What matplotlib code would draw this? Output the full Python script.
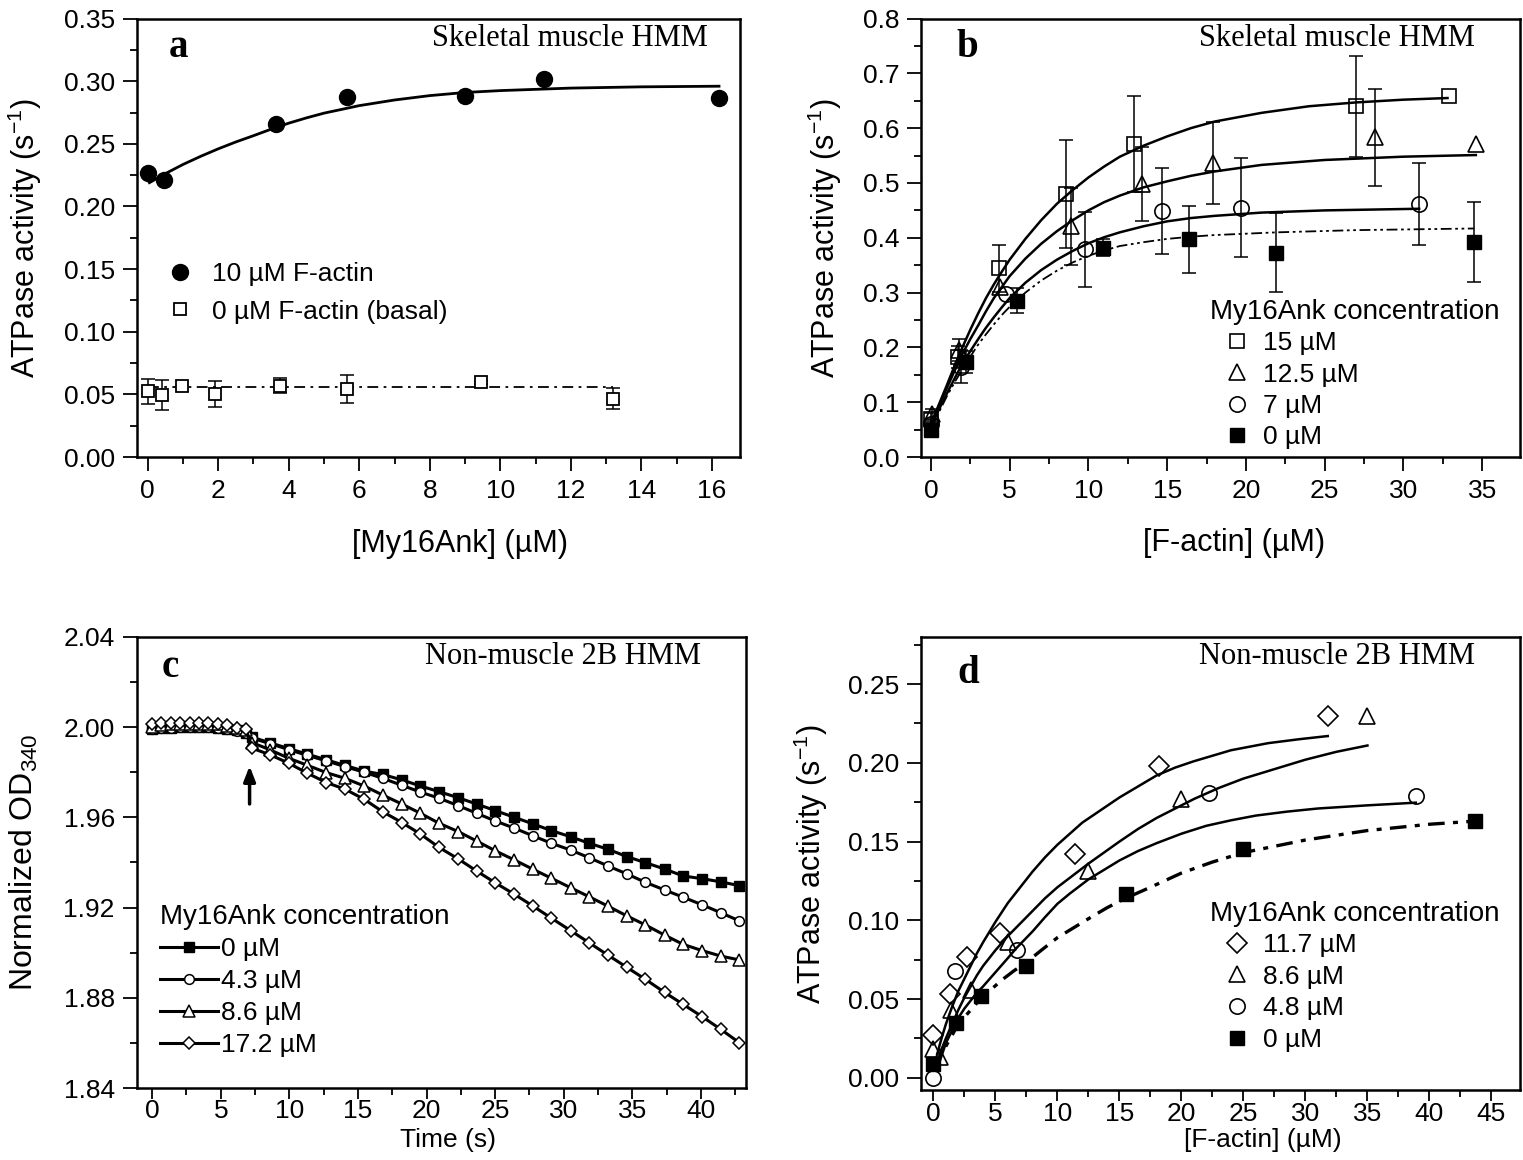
import numpy as np
import matplotlib
matplotlib.use('Agg')
import matplotlib.pyplot as plt
from matplotlib.ticker import MultipleLocator, FormatStrFormatter

plt.rcParams['font.family'] = ['Liberation Sans', 'DejaVu Sans']
plt.rcParams['mathtext.default'] = 'regular'

# ---------------- panel a data ----------------
a_act_x = [0, 0.45, 3.65, 5.65, 9.0, 11.25, 16.2]
a_act_y = [0.2265, 0.221, 0.266, 0.287, 0.288, 0.302, 0.2865]
a_fit_x = [0.05, 0.5, 1, 1.5, 2, 2.5, 3, 3.5, 4, 4.5, 5, 6, 7, 8, 9, 10, 12, 14, 16.2]
a_fit_y = [0.219, 0.2262, 0.2335, 0.240, 0.246, 0.2515, 0.2565, 0.2617, 0.2665, 0.2707,
           0.2745, 0.2805, 0.2850, 0.2885, 0.291, 0.2925, 0.2945, 0.2955, 0.296]
a_bas_x = [0, 0.4, 0.97, 1.9, 3.75, 5.65, 9.45, 13.2]
a_bas_y = [0.0524, 0.0497, 0.0571, 0.0503, 0.0569, 0.0542, 0.0595, 0.0466]
a_bas_e = [0.0102, 0.012, 0.0, 0.010, 0.006, 0.011, 0.0015, 0.0085]
a_bas_fit_x = [0, 13.2]
a_bas_fit_y = [0.0563, 0.0563]

# ---------------- panel b data ----------------
b_labels = ['15 µM', '12.5 µM', '7 µM', '0 µM']
b15_x = [0, 1.7, 4.3, 8.6, 12.9, 27.0, 32.9]
b15_y = [0.069, 0.182, 0.344, 0.480, 0.571, 0.640, 0.659]
b15_e = [0.012, 0.02, 0.043, 0.099, 0.087, 0.092, 0.0]
b125_x = [0.1, 1.8, 4.4, 8.9, 13.4, 17.9, 28.2, 34.6]
b125_y = [0.078, 0.195, 0.311, 0.421, 0.498, 0.536, 0.583, 0.571]
b125_e = [0.01, 0.02, 0.0, 0.07, 0.068, 0.075, 0.089, 0.0]
b7_x = [0, 1.9, 4.8, 9.8, 14.7, 19.7, 31.0]
b7_y = [0.060, 0.165, 0.297, 0.379, 0.449, 0.455, 0.462]
b7_e = [0.01, 0.03, 0.0, 0.068, 0.079, 0.090, 0.075]
b0_x = [0, 2.2, 5.5, 10.9, 16.4, 21.9, 34.5]
b0_y = [0.050, 0.173, 0.285, 0.382, 0.397, 0.373, 0.393]
b0_e = [0.0, 0.02, 0.023, 0.016, 0.061, 0.072, 0.073]

b15_fx = [0, 0.5, 1, 1.5, 2, 2.5, 3, 3.5, 4, 4.5, 5, 6, 7, 8, 9, 10, 11, 12, 13.5,
          15, 16.5, 18, 21, 24, 27, 30, 32.8]
b15_fy = [0.06, 0.095, 0.13, 0.166, 0.20, 0.232, 0.262, 0.29, 0.315, 0.338, 0.36, 0.398,
          0.432, 0.462, 0.487, 0.51, 0.53, 0.548, 0.568, 0.585, 0.60, 0.612, 0.628, 0.64,
          0.647, 0.652, 0.655]
b125_fx = [0, 0.5, 1, 1.5, 2, 2.5, 3, 3.5, 4, 4.5, 5, 6, 7, 8, 9, 10, 11, 12, 13.5,
           15, 16.5, 18, 21, 25, 30, 34.6]
b125_fy = [0.06, 0.093, 0.125, 0.157, 0.188, 0.215, 0.24, 0.266, 0.29, 0.31, 0.33, 0.362,
           0.389, 0.412, 0.432, 0.45, 0.465, 0.477, 0.492, 0.503, 0.513, 0.521, 0.533,
           0.542, 0.548, 0.551]
b7_fx = [0, 0.5, 1, 1.5, 2, 2.5, 3, 3.5, 4, 4.5, 5, 6, 7, 8, 9, 10, 11, 12, 13.5,
         15, 16.5, 18, 21, 25, 31]
b7_fy = [0.055, 0.086, 0.115, 0.143, 0.17, 0.193, 0.215, 0.236, 0.255, 0.273, 0.29, 0.318,
         0.341, 0.36, 0.376, 0.39, 0.401, 0.41, 0.421, 0.43, 0.436, 0.44, 0.446, 0.45, 0.453]
b0_fx = [0, 0.5, 1, 1.5, 2, 2.5, 3, 3.5, 4, 4.5, 5, 6, 7, 8, 9, 10, 11, 12, 13.5,
         15, 16.5, 18, 22, 27, 34.5]
b0_fy = [0.05, 0.081, 0.11, 0.136, 0.16, 0.183, 0.205, 0.224, 0.242, 0.259, 0.274, 0.30,
         0.322, 0.34, 0.355, 0.367, 0.377, 0.385, 0.392, 0.398, 0.402, 0.405, 0.41, 0.414, 0.417]

# ---------------- panel c data ----------------
c_labels = ['0 µM', '4.3 µM', '8.6 µM', '17.2 µM']
c_t = [0, 0.68, 1.37, 2.05, 2.74, 3.42, 4.1, 4.79, 5.47, 6.16, 6.84,
       7.3, 8.6, 9.95, 11.3, 12.7, 14.05, 15.45, 16.8, 18.2, 19.55, 20.9,
       22.3, 23.65, 25.0, 26.4, 27.75, 29.1, 30.5, 31.85, 33.2, 34.6,
       35.95, 37.35, 38.7, 40.1, 41.45, 42.8]
c_0 = [1.9990, 1.9995, 1.9998, 2.0000, 2.0000, 2.0000, 2.0000, 1.9998, 1.9992, 1.9985, 1.9975,
       1.9955, 1.9930, 1.9905, 1.9880, 1.9855, 1.9830, 1.9805, 1.9790, 1.9766, 1.9739, 1.9714,
       1.9687, 1.9659, 1.9630, 1.9600, 1.9571, 1.9541, 1.9514, 1.9485, 1.9459, 1.9426,
       1.9399, 1.9371, 1.9340, 1.9328, 1.9314, 1.9297]
c_43 = [1.9992, 1.9996, 1.9998, 2.0000, 2.0000, 2.0000, 1.9999, 1.9997, 1.9990, 1.9982, 1.9972,
        1.9950, 1.9927, 1.9900, 1.9875, 1.9850, 1.9825, 1.9800, 1.9773, 1.9742, 1.9712, 1.9685,
        1.9652, 1.9618, 1.9584, 1.9552, 1.9518, 1.9485, 1.9455, 1.9421, 1.9385, 1.9349,
        1.9312, 1.9278, 1.9246, 1.9212, 1.9177, 1.9141]
c_86 = [2.0000, 2.0010, 2.0013, 2.0015, 2.0013, 2.0012, 2.0012, 2.0013, 2.0005, 1.9995, 1.9985,
        1.9931, 1.9899, 1.9862, 1.9831, 1.9798, 1.9773, 1.9739, 1.9699, 1.9659, 1.9618, 1.9574,
        1.9537, 1.9495, 1.9452, 1.9411, 1.9370, 1.9330, 1.9288, 1.9248, 1.9207, 1.9163,
        1.9123, 1.9078, 1.9037, 1.9009, 1.8985, 1.8968]
c_172 = [2.0013, 2.0017, 2.0017, 2.0018, 2.0017, 2.0016, 2.0016, 2.0015, 2.0008, 1.9998, 1.9990,
         1.9906, 1.9877, 1.9840, 1.9796, 1.9754, 1.9725, 1.9680, 1.9625, 1.9577, 1.9526, 1.9467,
         1.9416, 1.9362, 1.9310, 1.9259, 1.9207, 1.9153, 1.9098, 1.9044, 1.8990, 1.8935,
         1.8882, 1.8824, 1.8771, 1.8716, 1.8660, 1.8601]
c_arrow_t = 7.1
c_arrow_y = [1.9647, 1.984]

# ---------------- panel d data ----------------
d_labels = ['11.7 µM', '8.6 µM', '4.8 µM', '0 µM']
d117_x = [0, 1.3, 2.7, 5.4, 11.4, 18.2, 31.8]
d117_y = [0.027, 0.053, 0.077, 0.092, 0.142, 0.198, 0.230]
d86_x = [0, 0.5, 1.4, 3.0, 6.0, 12.5, 20.0, 35.0]
d86_y = [0.018, 0.013, 0.043, 0.056, 0.086, 0.131, 0.177, 0.230]
d48_x = [0, 1.7, 6.7, 22.2, 38.9]
d48_y = [0.000, 0.068, 0.081, 0.181, 0.179]
d0_x = [0, 1.85, 3.8, 7.5, 15.5, 25.0, 43.7]
d0_y = [0.0085, 0.035, 0.052, 0.071, 0.117, 0.145, 0.163]

d117_fx = [0.3, 0.65, 1, 1.5, 2, 2.5, 3, 3.5, 4, 5, 6, 7, 8, 9, 10, 11, 12, 13.5, 15,
           16.5, 18, 19.5, 21, 24, 27, 29.5, 31.8]
d117_fy = [0.015, 0.025, 0.034, 0.045, 0.055, 0.063, 0.071, 0.079, 0.086, 0.099, 0.111,
           0.121, 0.131, 0.14, 0.148, 0.155, 0.162, 0.17, 0.178, 0.185, 0.192, 0.197,
           0.201, 0.208, 0.2125, 0.215, 0.217]
d86_fx = [0.3, 0.65, 1, 1.5, 2, 2.5, 3, 3.5, 4, 5, 6, 7, 8, 9, 10, 11, 12.5, 13.75, 15,
          16.5, 18, 19.5, 21, 23, 25, 27.5, 30, 32.5, 35]
d86_fy = [0.01, 0.018, 0.025, 0.034, 0.043, 0.051, 0.058, 0.065, 0.071, 0.081, 0.09,
          0.098, 0.106, 0.114, 0.121, 0.127, 0.136, 0.143, 0.150, 0.158, 0.165, 0.171,
          0.177, 0.184, 0.19, 0.196, 0.202, 0.207, 0.211]
d48_fx = [0.4, 0.7, 1, 1.5, 2, 2.5, 3, 3.5, 4, 5, 6, 6.65, 8, 9, 10, 11, 12.5, 13.75,
          15, 16.5, 18, 20, 22, 24, 26, 28.5, 31, 35, 38.9]
d48_fy = [0.008, 0.015, 0.022, 0.03, 0.038, 0.044, 0.049, 0.054, 0.058, 0.067, 0.076,
          0.082, 0.093, 0.102, 0.1105, 0.117, 0.126, 0.132, 0.138, 0.144, 0.149, 0.155,
          0.160, 0.1635, 0.1665, 0.169, 0.171, 0.173, 0.1747]
d0_fx = [0, 0.5, 1, 1.5, 2, 3, 3.77, 4.5, 5.5, 6.5, 7.45, 8.7, 10, 11.25, 12.5, 14, 15.5,
         17.5, 20, 22.5, 25, 27.5, 30, 32.5, 35, 37.5, 40, 43.7]
d0_fy = [0.006, 0.013, 0.02, 0.027, 0.034, 0.043, 0.05, 0.055, 0.062, 0.068, 0.073,
         0.081, 0.089, 0.095, 0.101, 0.108, 0.114, 0.121, 0.130, 0.137, 0.143, 0.147,
         0.151, 0.154, 0.157, 0.159, 0.161, 0.163]


def style_axes(ax, xmaj, xmin, ymaj, ymin, yfmt, xpad=6, xlen=10):
    for s in ax.spines.values():
        s.set_linewidth(1.8)
    ax.xaxis.set_major_locator(MultipleLocator(xmaj))
    ax.xaxis.set_minor_locator(MultipleLocator(xmin))
    ax.yaxis.set_major_locator(MultipleLocator(ymaj))
    ax.yaxis.set_minor_locator(MultipleLocator(ymin))
    ax.yaxis.set_major_formatter(FormatStrFormatter(yfmt))
    ax.tick_params(which='both', direction='out', top=False, right=False, width=1.3)
    ax.tick_params(which='major', length=10, labelsize=19, pad=6)
    ax.tick_params(which='minor', length=5)
    ax.tick_params(axis='x', which='major', pad=xpad, length=xlen)


def err_subset(ax, x, y, e, **kw):
    x, y, e = np.array(x), np.array(y), np.array(e)
    m = e > 0
    ax.errorbar(x[m], y[m], yerr=e[m], fmt='none', ecolor='black',
                elinewidth=1.1, capsize=5, capthick=1.1, **kw)


fig = plt.figure(figsize=(15.23, 11.6), dpi=100)
ax_a = fig.add_axes([0.090, 0.606, 0.396, 0.378])
ax_b = fig.add_axes([0.605, 0.606, 0.393, 0.378])
ax_c = fig.add_axes([0.090, 0.062, 0.400, 0.389])
ax_d = fig.add_axes([0.605, 0.060, 0.393, 0.391])

serif = ['Liberation Serif', 'DejaVu Serif']

# ---- a ----
ax = ax_a
ax.plot(a_fit_x, a_fit_y, color='black', lw=2)
ax.plot(a_bas_fit_x, a_bas_fit_y, color='black', lw=1.3, ls=(0, (6, 3, 1.5, 3)))
err_subset(ax, a_bas_x, a_bas_y, a_bas_e)
ax.plot(a_act_x, a_act_y, 'o', color='black', ms=11.5, label='10 µM F-actin')
ax.plot(a_bas_x, a_bas_y, 's', mfc='white', mec='black', mew=1.3, ms=9, label='0 µM F-actin (basal)')
ax.set_xlim(-0.3, 16.8)
ax.set_ylim(0, 0.35)
style_axes(ax, 2, 1, 0.05, 0.025, '%.2f')
ax.set_xlabel('[My16Ank] (µM)', fontsize=22)
ax.set_ylabel('ATPase activity (s$^{-1}$)', fontsize=22)
ax.xaxis.set_label_coords(0.536, -0.165)
ax.yaxis.set_label_coords(-0.155, 0.5)
ax.legend(loc='upper left', bbox_to_anchor=(0.05, 0.444), frameon=False, fontsize=19,
          handlelength=1.0, handletextpad=0.7, labelspacing=0.5, borderpad=0, borderaxespad=0)
ax.text(0.947, 0.954, 'Skeletal muscle HMM', transform=ax.transAxes, ha='right', va='center',
        fontsize=22, family=serif)
ax.text(0.068, 0.935, 'a', transform=ax.transAxes, ha='center', va='center',
        fontsize=28, fontweight='bold', family=serif)

# ---- b ----
ax = ax_b
ax.plot(b15_fx, b15_fy, color='black', lw=1.8)
ax.plot(b125_fx, b125_fy, color='black', lw=1.8)
ax.plot(b7_fx, b7_fy, color='black', lw=1.8)
ax.plot(b0_fx, b0_fy, color='black', lw=1.3, ls=(0, (6, 2, 1.5, 2, 1.5, 2)))
for xs, ys, es in [(b15_x, b15_y, b15_e), (b125_x, b125_y, b125_e),
                   (b7_x, b7_y, b7_e), (b0_x, b0_y, b0_e)]:
    err_subset(ax, xs, ys, es)
ax.plot(b15_x, b15_y, 's', mfc='none', mec='black', mew=1.2, ms=10, label=b_labels[0])
ax.plot(b125_x, b125_y, '^', mfc='none', mec='black', mew=1.2, ms=12, label=b_labels[1])
ax.plot(b7_x, b7_y, 'o', mfc='none', mec='black', mew=1.2, ms=11, label=b_labels[2])
ax.plot(b0_x, b0_y, 's', color='black', ms=10, label=b_labels[3])
ax.set_xlim(-0.6, 37.4)
ax.set_ylim(0, 0.8)
style_axes(ax, 5, 2.5, 0.1, 0.05, '%.1f')
ax.set_xlabel('[F-actin] (µM)', fontsize=22)
ax.set_ylabel('ATPase activity (s$^{-1}$)', fontsize=22)
ax.xaxis.set_label_coords(0.523, -0.162)
ax.yaxis.set_label_coords(-0.13, 0.5)
ax.text(0.482, 0.33, 'My16Ank concentration', transform=ax.transAxes, ha='left', va='center',
        fontsize=20)
ax.legend(loc='upper left', bbox_to_anchor=(0.505, 0.287), frameon=False, fontsize=19,
          handlelength=1.0, handletextpad=0.5, labelspacing=0.28, borderpad=0, borderaxespad=0)
ax.text(0.925, 0.954, 'Skeletal muscle HMM', transform=ax.transAxes, ha='right', va='center',
        fontsize=22, family=serif)
ax.text(0.077, 0.935, 'b', transform=ax.transAxes, ha='center', va='center',
        fontsize=28, fontweight='bold', family=serif)

# ---- c ----
ax = ax_c
ax.plot(c_t, c_0, '-s', color='black', lw=2.2, ms=6.5, mfc='black', label=c_labels[0])
ax.plot(c_t, c_43, '-o', color='black', lw=2.2, ms=7, mfc='white', mew=1.1, label=c_labels[1])
ax.plot(c_t, c_86, '-^', color='black', lw=2.2, ms=8, mfc='white', mew=1.1, label=c_labels[2])
ax.plot(c_t, c_172, '-D', color='black', lw=2.2, ms=6.5, mfc='white', mew=1.1, label=c_labels[3])
ax.annotate('', xy=(c_arrow_t, c_arrow_y[1]), xytext=(c_arrow_t, c_arrow_y[0]),
            arrowprops=dict(arrowstyle='-|>,head_length=0.9,head_width=0.35', color='black', lw=2.5))
ax.set_xlim(-1.1, 43.3)
ax.set_ylim(1.84, 2.04)
style_axes(ax, 5, 2.5, 0.04, 0.02, '%.2f', xpad=0, xlen=8)
ax.set_xlabel('Time (s)', fontsize=19)
ax.set_ylabel('Normalized OD$_{340}$', fontsize=23)
ax.xaxis.set_label_coords(0.51, -0.088)
ax.yaxis.set_label_coords(-0.16, 0.5)
ax.text(0.038, 0.38, 'My16Ank concentration', transform=ax.transAxes, ha='left', va='center',
        fontsize=20)
ax.legend(loc='upper left', bbox_to_anchor=(0.038, 0.335), frameon=False, fontsize=19,
          handlelength=2.2, handletextpad=0.1, labelspacing=0.31, borderpad=0, borderaxespad=0)
ax.text(0.926, 0.956, 'Non-muscle 2B HMM', transform=ax.transAxes, ha='right', va='center',
        fontsize=22, family=serif)
ax.text(0.054, 0.931, 'c', transform=ax.transAxes, ha='center', va='center',
        fontsize=28, fontweight='bold', family=serif)

# ---- d ----
ax = ax_d
ax.plot(d117_fx, d117_fy, color='black', lw=1.8)
ax.plot(d86_fx, d86_fy, color='black', lw=1.8)
ax.plot(d48_fx, d48_fy, color='black', lw=1.8)
ax.plot(d0_fx, d0_fy, color='black', lw=2.4, ls=(0, (5, 2.5, 1.5, 2.5)))
ax.plot(d117_x, d117_y, 'D', mfc='none', mec='black', mew=1.2, ms=10, label=d_labels[0])
ax.plot(d86_x, d86_y, '^', mfc='none', mec='black', mew=1.2, ms=12, label=d_labels[1])
ax.plot(d48_x, d48_y, 'o', mfc='none', mec='black', mew=1.2, ms=11, label=d_labels[2])
ax.plot(d0_x, d0_y, 's', color='black', ms=10, label=d_labels[3])
ax.set_xlim(-0.97, 47.3)
ax.set_ylim(-0.008, 0.28)
style_axes(ax, 5, 2.5, 0.05, 0.025, '%.2f', xpad=0, xlen=8)
ax.set_xlabel('[F-actin] (µM)', fontsize=19)
ax.set_ylabel('ATPase activity (s$^{-1}$)', fontsize=22)
ax.xaxis.set_label_coords(0.571, -0.082)
ax.yaxis.set_label_coords(-0.152, 0.5)
ax.text(0.482, 0.389, 'My16Ank concentration', transform=ax.transAxes, ha='left', va='center',
        fontsize=20)
ax.legend(loc='upper left', bbox_to_anchor=(0.505, 0.347), frameon=False, fontsize=19,
          handlelength=1.0, handletextpad=0.5, labelspacing=0.29, borderpad=0, borderaxespad=0)
ax.text(0.925, 0.956, 'Non-muscle 2B HMM', transform=ax.transAxes, ha='right', va='center',
        fontsize=22, family=serif)
ax.text(0.078, 0.92, 'd', transform=ax.transAxes, ha='center', va='center',
        fontsize=28, fontweight='bold', family=serif)

fig.savefig('out.png', dpi=100)
